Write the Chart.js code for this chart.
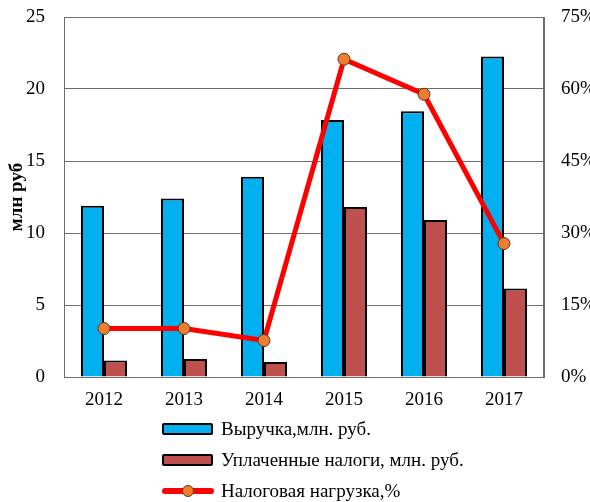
<!DOCTYPE html>
<html><head><meta charset="utf-8">
<script src="https://cdn.jsdelivr.net/npm/chart.js@4"></script>
<style>
html,body{margin:0;padding:0;background:#fff;}
#wrap{position:relative;width:590px;height:502px;}
#legend{position:absolute;left:162px;top:413px;font-family:"Liberation Serif",serif;font-size:19px;color:#000;}
.li{display:flex;align-items:center;height:31px;}
.box{width:47px;height:8px;border:2px solid #000;border-radius:2px;margin-right:8px;}
.ln{position:relative;width:52px;height:6px;background:#ff0000;border-radius:3px;margin-right:7px;}
.dot{position:absolute;left:20px;top:-3px;width:10px;height:10px;border-radius:50%;background:#ED7D31;border:1px solid #5a3a1a;}
</style></head>
<body><div id="wrap"><canvas id="c" width="590" height="502"></canvas>
<div id="legend"></div></div>
<script>
const categories = ["2012","2013","2014","2015","2016","2017"];
const revenue = [11.9, 12.4, 13.9, 17.85, 18.45, 22.25];
const taxes = [1.15, 1.25, 1.05, 11.8, 10.9, 6.15];
const taxBurden = [10.1, 10.1, 7.6, 66.2, 58.9, 27.8];
const leftTicks = [0,5,10,15,20,25];
const rightTicks = [0,15,30,45,60,75];
const labels = ["Выручка,млн. руб.", "Уплаченные налоги,  млн. руб.", "Налоговая нагрузка,%"];

const font = {family:"'Liberation Serif', serif", size:19};
const gridColor = "#6e6e6e";

new Chart(document.getElementById('c'), {
  data: {
    labels: categories,
    datasets: [
      {type:'line', label:labels[2], data:taxBurden, yAxisID:'y2', borderColor:'#ff0000', borderWidth:5,
       pointBackgroundColor:'#ED7D31', pointBorderColor:'#5a3a1a', pointBorderWidth:1, pointRadius:6, tension:0, order:0},
      {type:'bar', label:labels[0], data:revenue, yAxisID:'y', backgroundColor:'#00B0F0', borderColor:'#000', borderWidth:2,
       categoryPercentage:0.575, barPercentage:1, order:1},
      {type:'bar', label:labels[1], data:taxes, yAxisID:'y', backgroundColor:'#C0504D', borderColor:'#000', borderWidth:2,
       categoryPercentage:0.575, barPercentage:1, order:1}
    ]
  },
  options: {
    responsive:false, animation:false,
    layout:{padding:{top:17, bottom:0, left:0, right:0}},
    plugins:{legend:{display:false}, tooltip:{enabled:false}},
    scales:{
      x:{grid:{display:false, drawTicks:false}, border:{color:gridColor, width:1},
         ticks:{font:font, color:'#000', padding:12},
         afterFit:s=>{s.height=125; s.paddingLeft=0; s.paddingRight=0;}},
      y:{position:'left', min:0, max:25, afterBuildTicks:s=>{s.ticks=leftTicks.map(v=>({value:v}));},
         grid:{color:gridColor, drawTicks:false}, border:{color:gridColor},
         ticks:{font:font, color:'#000', padding:19},
         title:{display:true, text:'млн руб', font:{family:"'Liberation Serif', serif", size:19, weight:'bold'}, color:'#000', padding:{top:6,bottom:0}},
         afterFit:s=>{s.width=64; s.paddingTop=0; s.paddingBottom=0;}},
      y2:{position:'right', min:0, max:75, afterBuildTicks:s=>{s.ticks=rightTicks.map(v=>({value:v}));},
         grid:{display:false, drawTicks:false}, border:{color:gridColor},
         ticks:{font:font, color:'#000', padding:17, callback:v=>v+'%'},
         afterFit:s=>{s.width=46; s.paddingTop=0; s.paddingBottom=0;}}
    }
  },
  plugins:[{id:'frame', afterDraw(c){const a=c.chartArea,x=c.ctx;x.save();x.strokeStyle=gridColor;x.lineWidth=1;x.strokeRect(a.left+0.5,a.top+0.5,a.right-a.left-1,a.bottom-a.top);x.restore();}}]
});

const lg = document.getElementById('legend');
lg.innerHTML =
  '<div class="li"><div class="box" style="background:#00B0F0"></div>'+labels[0]+'</div>'+
  '<div class="li"><div class="box" style="background:#C0504D"></div>'+labels[1]+'</div>'+
  '<div class="li"><div class="ln"><div class="dot"></div></div>'+labels[2]+'</div>';
</script></body></html>
